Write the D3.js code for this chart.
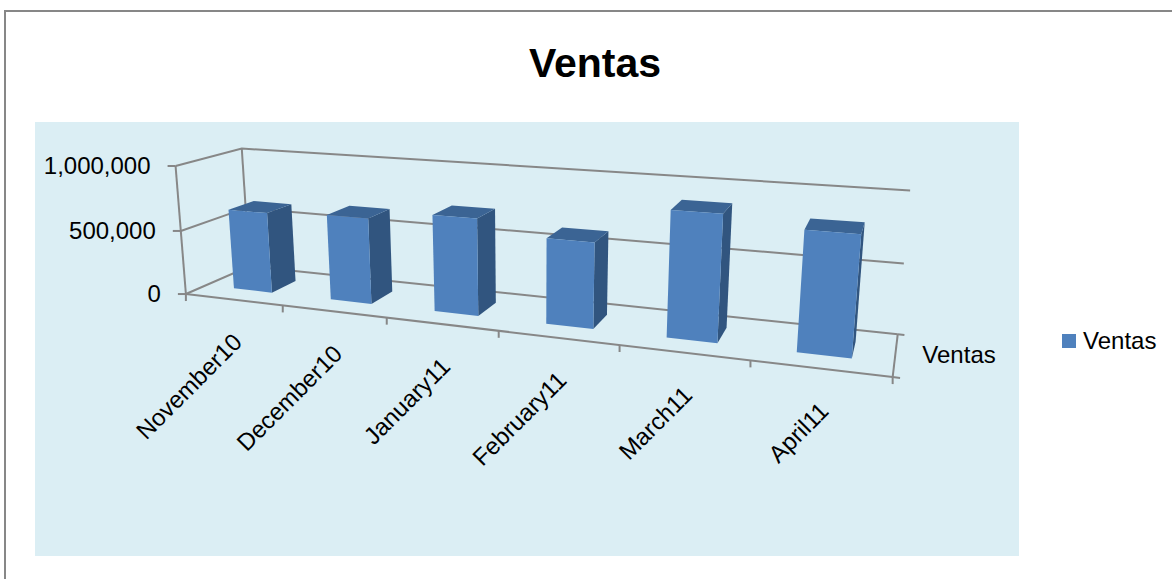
<!DOCTYPE html>
<html><head><meta charset="utf-8">
<script src="https://cdn.jsdelivr.net/npm/d3@7"></script>
<style>body{margin:0;background:#fff}svg{display:block}text{font-family:"Liberation Sans",Arial,sans-serif;fill:#000}</style>
</head><body>
<svg id="c" width="1172" height="579"></svg>
<script>
// ---- data ----
const title = "Ventas";
const seriesName = "Ventas";
const categories = ["November10","December10","January11","February11","March11","April11"];
const ventas = [630000, 655000, 720000, 620000, 885000, 820000];
const yTicks = [0, 500000, 1000000];
const yTickLabels = ["0", "500,000", "1,000,000"];

// ---- 3D frame calibration (box x:0..6 categories, y:0..1 value, z:0 front..1 back) ----
const calib = [
 [0,0,0,186,294],[0,1,0,175,165],[0,0.5,0,181.5,230.5],
 [0,0,1,249,266],[0,1,1,242,149],
 [6,0,0,893,377],[6,0,1,898,333],[6,1,1,910,191],[6,0.5,1,904,264],
 [1,0,0,283,306.5],[2,0,0,387,318.3],[3,0,0,498.3,330.5],[4,0,0,619.3,345],[5,0,0,750,360.5]
];
const CX=540, CY=270, S=400;
function solve(A,b){const n=b.length;const M=A.map((r,i)=>r.concat([b[i]]));
 for(let c=0;c<n;c++){let p=c;for(let r=c+1;r<n;r++)if(Math.abs(M[r][c])>Math.abs(M[p][c]))p=r;[M[c],M[p]]=[M[p],M[c]];
  for(let r=0;r<n;r++){if(r===c)continue;const f=M[r][c]/M[c][c];for(let k=c;k<=n;k++)M[r][k]-=f*M[c][k];}}
 return M.map((r,i)=>r[n]/r[i]);}
function fit(pts){const rows=[],rhs=[];
 pts.forEach(([X,Y,Z,u,v])=>{const un=(u-CX)/S,vn=(v-CY)/S;
  rows.push([X,Y,Z,1,0,0,0,0,-un*X,-un*Y,-un*Z]);rhs.push(un);
  rows.push([0,0,0,0,X,Y,Z,1,-vn*X,-vn*Y,-vn*Z]);rhs.push(vn);});
 const N=Array.from({length:11},()=>new Array(11).fill(0)),B=new Array(11).fill(0);
 rows.forEach((r,k)=>{for(let i=0;i<11;i++){B[i]+=r[i]*rhs[k];for(let j=0;j<11;j++)N[i][j]+=r[i]*r[j];}});
 return solve(N,B);}
const Pm = fit(calib);
function proj(x,y,z){const w=Pm[8]*x+Pm[9]*y+Pm[10]*z+1;
 return [CX+S*(Pm[0]*x+Pm[1]*y+Pm[2]*z+Pm[3])/w, CY+S*(Pm[4]*x+Pm[5]*y+Pm[6]*z+Pm[7])/w];}

// ---- scales ----
const xBand = d3.scaleBand().domain(categories).range([0,6]).paddingInner(0.6).paddingOuter(0.3);
const yScale = d3.scaleLinear().domain([0,1000000]).range([0,1]);
const Z0=0.3, Z1=0.7, XMAX=6;

const svg = d3.select("#c");
svg.append("rect").attr("width",1172).attr("height",579).attr("fill","#fff");
svg.append("rect").attr("x",5).attr("y",11).attr("width",1300).attr("height",700)
  .attr("fill","none").attr("stroke","#878787").attr("stroke-width",2);
svg.append("rect").attr("x",35).attr("y",122).attr("width",984).attr("height",434).attr("fill","#dbeef4");

svg.append("text").attr("x",595).attr("y",77).attr("text-anchor","middle")
  .style("font-size","41px").style("font-weight","bold").text(title);

const line = d3.line();
const gStroke = "#878787";
const g = svg.append("g").attr("fill","none").attr("stroke",gStroke).attr("stroke-width",2);
// gridlines on side wall and back wall
yTicks.forEach(t=>{const y=yScale(t);
  g.append("path").attr("d",line([proj(0,y,0),proj(0,y,1),proj(XMAX,y,1)]));});
// verticals
g.append("path").attr("d",line([proj(0,0,1),proj(0,1,1)]));
g.append("path").attr("d",line([proj(0,0,0),proj(0,1,0)]));
// floor edges
g.append("path").attr("d",line([proj(0,0,0),proj(XMAX,0,0)]));
g.append("path").attr("d",line([proj(XMAX,0,0),proj(XMAX,0,1)]));
[0,1].forEach(z=>g.append("path").attr("d",line([proj(XMAX,0,z),proj(XMAX+0.05,0,z)])));
// category ticks
d3.range(0,categories.length+1).forEach(k=>{const p=proj(k,0,0);
  g.append("path").attr("d",line([p,[p[0],p[1]+7]]));});
// value ticks
yTicks.forEach(t=>{const p=proj(0,yScale(t),0);
  g.append("path").attr("d",line([[p[0]-8,p[1]],p]));});

// bars
const bars = svg.append("g");
categories.forEach((c,i)=>{
  const x0=xBand(c), x1=x0+xBand.bandwidth(), v=yScale(ventas[i]);
  const front=[proj(x0,0,Z0),proj(x1,0,Z0),proj(x1,v,Z0),proj(x0,v,Z0)];
  const side=[proj(x1,0,Z0),proj(x1,0,Z1),proj(x1,v,Z1),proj(x1,v,Z0)];
  const top=[proj(x0,v,Z0),proj(x1,v,Z0),proj(x1,v,Z1),proj(x0,v,Z1)];
  bars.append("path").attr("d",line(side)+"Z").attr("fill","#31557f");
  bars.append("path").attr("d",line(top)+"Z").attr("fill","#3b6494");
  bars.append("path").attr("d",line(front)+"Z").attr("fill","#4f81bd");
});

// value labels
yTicks.forEach((t,i)=>{const p=proj(0,yScale(t),0);
  svg.append("text").attr("x",p[0]-25).attr("y",p[1]).attr("dy","0.35em").attr("text-anchor","end")
   .style("font-size","24px").text(yTickLabels[i]);});
// category labels
categories.forEach(c=>{const p=proj(xBand(c)+xBand.bandwidth()/2,0,0);
  svg.append("text").attr("transform",`translate(${p[0]+10},${p[1]+44}) rotate(-45)`)
   .attr("text-anchor","end").style("font-size","24px").text(c);});
// depth axis label
{const p=proj(XMAX,0,0.5);
 svg.append("text").attr("x",p[0]+27).attr("y",p[1]).attr("dy","0.35em").style("font-size","24px").text(seriesName);}
// legend
svg.append("rect").attr("x",1062).attr("y",334).attr("width",14).attr("height",14).attr("fill","#4f81bd");
svg.append("text").attr("x",1083).attr("y",341).attr("dy","0.35em").style("font-size","24px").text(seriesName);
</script>
</body></html>
